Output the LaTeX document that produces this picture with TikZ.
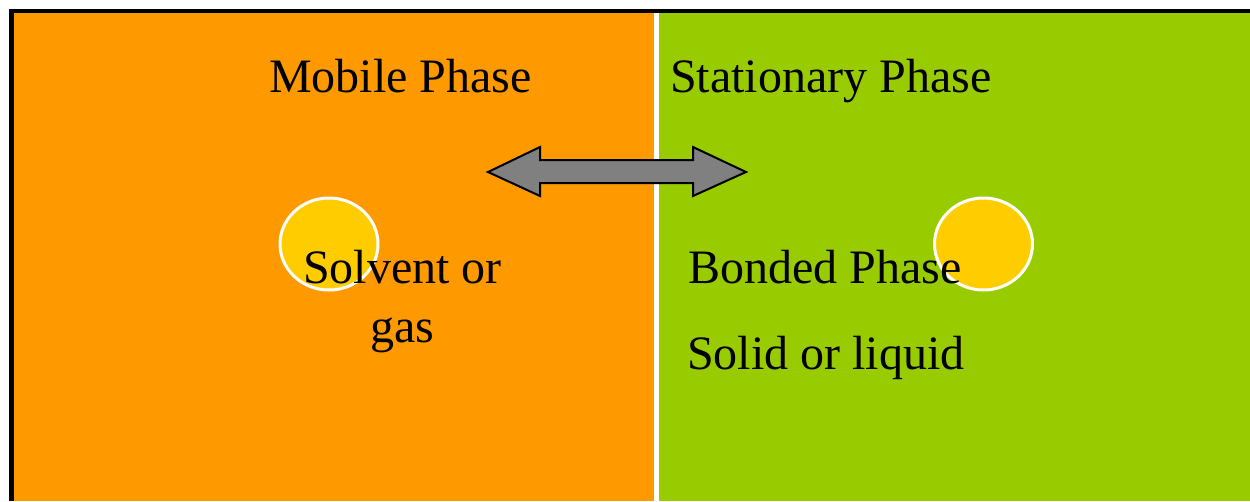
\documentclass[tikz,border=0pt]{standalone}
\usepackage{fontspec}
\setmainfont{Liberation Serif}
\definecolor{mobile}{HTML}{FF9900}
\definecolor{stat}{HTML}{99CC00}
\definecolor{dot}{HTML}{FFCC00}
\definecolor{arrowgray}{HTML}{808080}
\begin{document}
\begin{tikzpicture}[x=1pt,y=-1pt,
  lbl/.style={anchor=base west,inner sep=0pt,font=\fontsize{48}{56}\selectfont},
  molecule/.style={fill=dot,draw=white,line width=3pt}]
\useasboundingbox (0,0) rectangle (1250,501);
\fill[white] (0,0) rectangle (1250,501);
\fill[black] (9,9) rectangle (1250,501);
\fill[white] (14,13) rectangle (1250,501);
\fill[mobile] (14,13) rectangle (654,501);
\fill[stat] (659,13) rectangle (1250,501);
\draw[molecule] (329,244) ellipse [x radius=49,y radius=46];
\draw[molecule] (983.5,244) ellipse [x radius=49,y radius=46];
\draw[fill=arrowgray,draw=black,line width=2pt,line join=miter]
  (488,172) -- (540,147) -- (540,160) -- (693,160) -- (693,147) -- (746,172)
  -- (693,196) -- (693,183) -- (540,183) -- (540,196) -- cycle;
\node[lbl] (mob) at (269,92) {Mobile Phase};
\node[lbl] (sta) at (670,92) {Stationary Phase};
\node[lbl] (sol) at (303,283) {Solvent or};
\node[lbl] (gas) at (370,342) {gas};
\node[lbl] (bon) at (688,283) {Bonded Phase};
\node[lbl] (sli) at (687,369) {Solid or liquid};
\end{tikzpicture}
\end{document}
